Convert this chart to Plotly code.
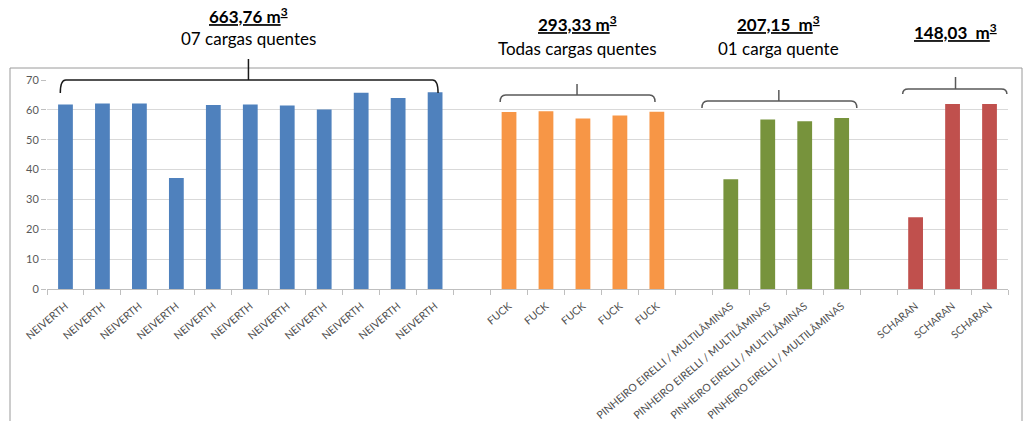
import plotly.graph_objects as go

# ---------------- data ----------------
group_names = ["NEIVERTH", "FUCK", "PINHEIRO EIRELLI / MULTILÂMINAS", "SCHARAN"]
neiverth = [61.8, 62.1, 62.1, 37.2, 61.6, 61.8, 61.5, 60.1, 65.7, 64.0, 65.9]
fuck = [59.3, 59.5, 57.1, 58.1, 59.4]
pinheiro = [36.8, 56.8, 56.2, 57.3]
scharan = [24.0, 62.0, 62.0]
totals = ["663,76 m<sup>3</sup>", "293,33 m<sup>3</sup>", "207,15\u00a0 m<sup>3</sup>", "148,03\u00a0 m<sup>3</sup>"]
notes = ["07 cargas quentes", "Todas cargas quentes", "01 carga quente", ""]
y_ticks = [0, 10, 20, 30, 40, 50, 60, 70]

series = [neiverth, fuck, pinheiro, scharan]
colors = ["#4F81BD", "#F79646", "#77933C", "#C0504D"]

# ---------------- layout constants ----------------
W, H = 1027, 421
ML, MR, MT, MB = 47, 19, 80, 132
PL, PR, PT, PB = ML, W - MR, MT, H - MB

def px_x(px):
    return (px - PL) / (PR - PL)

def px_y(py):
    return (PB - py) / (PB - PT)

fig = go.Figure()

positions = []
start = 0
tickvals, ticktext = [], []
for name, vals, col in zip(group_names, series, colors):
    xs = [start + i for i in range(len(vals))]
    positions.append(xs)
    fig.add_trace(go.Bar(x=xs, y=vals, marker=dict(color=col, line=dict(width=0)),
                         width=0.4, showlegend=False, hoverinfo="y"))
    tickvals += xs
    ticktext += [name] * len(vals)
    start += len(vals) + 1

n_slots = start - 1
x_range = [-0.5, n_slots - 0.5]
boundaries = [b - 0.5 for b in range(n_slots + 1)]

def dx(x):
    return (x - x_range[0]) / (x_range[1] - x_range[0])

# bracket geometry (decoration): (left, right, center) in axis units, (line, hook, top) in px
bracket_x = [(-0.14, 10.08, 4.95), (11.76, 15.95, 13.84), (17.22, 21.41, 19.30), (22.65, 25.47, 24.08)]
bracket_y = [(80, 93, 59), (95, 102, 84), (101, 108, 90), (89, 94, 77)]
bracket_col = ["#1a1a1a", "#595959", "#595959", "#595959"]
text_y = [(15, 39), (24, 48), (24, 48), (31, None)]

shapes = []
annotations = []
for (x0, x1, xc), (yl, yh, yt), col, (ty1, ty2), tot, note in zip(
        bracket_x, bracket_y, bracket_col, text_y, totals, notes):
    X0, X1, XC = dx(x0), dx(x1), dx(xc)
    YL, YH, YT = px_y(yl), px_y(yh), px_y(yt)
    r = dx(x0 + 0.15) - X0
    path = (f"M {X0},{YH} Q {X0},{YL} {X0 + r},{YL} L {X1 - r},{YL} "
            f"Q {X1},{YL} {X1},{YH}")
    shapes.append(dict(type="path", path=path, xref="paper", yref="paper",
                       line=dict(color=col, width=1.5)))
    shapes.append(dict(type="line", x0=XC, x1=XC, y0=YL, y1=YT, xref="paper", yref="paper",
                       line=dict(color=col, width=1.5)))
    annotations.append(dict(text=f"<b><u>{tot}</u></b>", x=XC, y=px_y(ty1), xref="paper", yref="paper",
                            xanchor="center", yanchor="middle", showarrow=False,
                            font=dict(family="Lato", size=17, color="#000000")))
    if note:
        annotations.append(dict(text=note, x=XC, y=px_y(ty2), xref="paper", yref="paper",
                                xanchor="center", yanchor="middle", showarrow=False,
                                font=dict(family="Lato", size=17, color="#000000")))

# chart border
shapes.append(dict(type="rect", xref="paper", yref="paper", layer="below",
                   x0=px_x(10), x1=px_x(1022), y0=px_y(68), y1=px_y(440),
                   line=dict(color="#9a9a9a", width=1)))

fig.update_layout(
    width=W, height=H,
    margin=dict(l=ML, r=MR, t=MT, b=MB, pad=0),
    paper_bgcolor="white", plot_bgcolor="white",
    shapes=shapes, annotations=annotations,
    bargap=0.6,
    font=dict(family="Lato", color="#595959"),
    xaxis=dict(range=x_range, tickmode="array", tickvals=tickvals, ticktext=ticktext,
               tickangle=-40, ticks="", showgrid=False, zeroline=False,
               showline=True, linecolor="#bfbfbf", linewidth=1,
               tickfont=dict(family="Lato", size=10.5, color="#505050"),
               ticklabelstandoff=6, automargin=False,
               minor=dict(tickmode="array", tickvals=boundaries, ticks="outside",
                          ticklen=5, tickcolor="#bfbfbf", showgrid=False)),
    yaxis=dict(range=[0, 70], tickmode="array", tickvals=y_ticks,
               showgrid=True, gridcolor="#d9d9d9", gridwidth=1, zeroline=False,
               showline=False, ticks="outside", ticklen=5, tickcolor="#bfbfbf",
               tickfont=dict(family="Lato", size=11, color="#595959"),
               automargin=False),
)

fig.write_html("out.html")
